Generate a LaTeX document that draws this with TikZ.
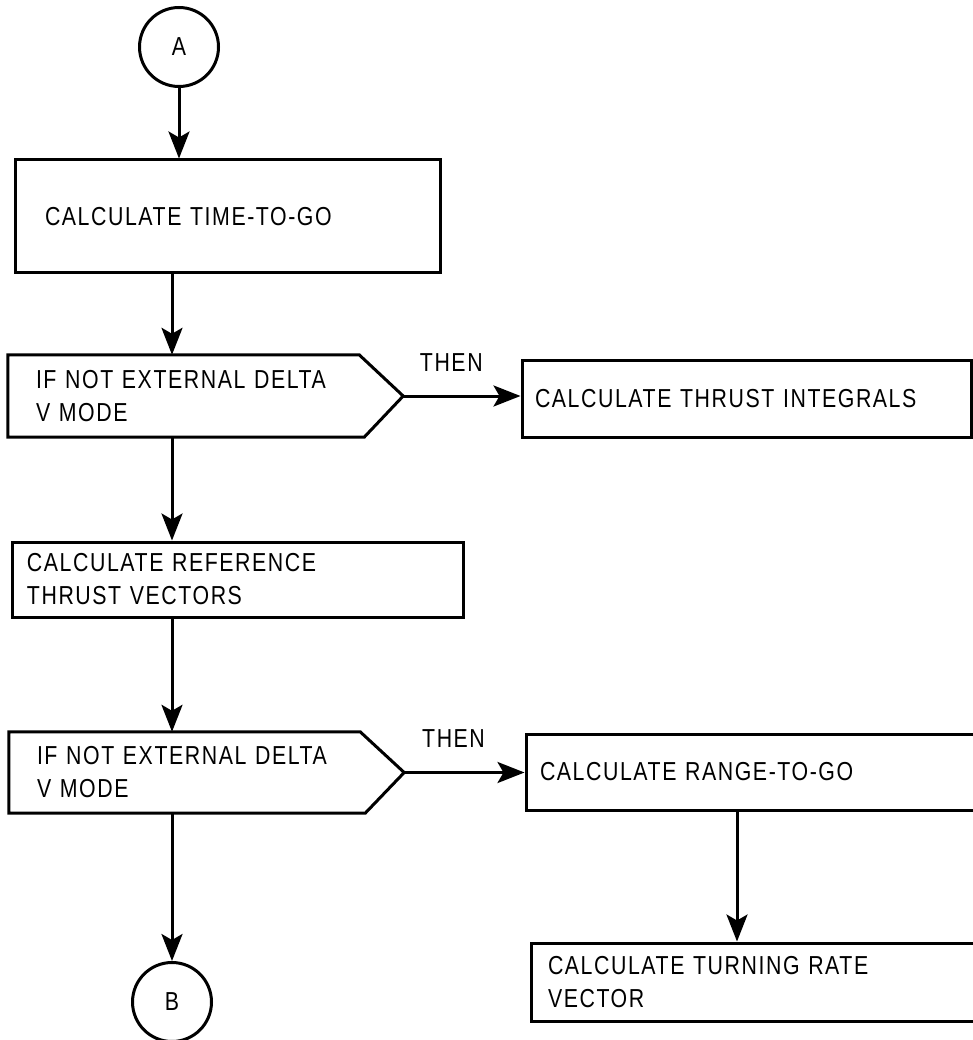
\documentclass[tikz,border=0pt]{standalone}
\usepackage{fontspec}
\setmainfont[FakeStretch=0.82, LetterSpace=6]{Liberation Sans}
\usetikzlibrary{arrows.meta}

\tikzset{
  flow/.style={line width=3pt, -{Stealth[length=27pt,width=21pt,inset=6pt]}},
  procbox/.style={draw, rectangle, line width=3pt, align=left, inner ysep=0pt},
  ifbox/.style={rectangle, align=left, inner ysep=0pt, inner xsep=28pt, text width=339pt},
  joint/.style={draw, circle, line width=3pt, minimum size=79pt, inner sep=0pt}
}
\newcommand{\ifoutline}[1]{\draw[line width=3pt] (#1.north west) -- ([xshift=-44pt]#1.north east) -- (#1.east) -- ([xshift=-39pt]#1.south east) -- (#1.south west) -- cycle;}

\begin{document}
\begin{tikzpicture}[x=1pt, y=-1pt, every node/.style={font=\fontsize{26}{33}\selectfont}]
\useasboundingbox (0,0) rectangle (972,1040);

\node[joint] (A) at (179,47) {A};
\node[procbox, inner xsep=30pt, text width=365pt, minimum height=113pt] (calctime) at (227.5,216.5) {CALCULATE TIME-TO-GO};
\node[ifbox, minimum height=82pt] (ifa) at (205.5,396) {IF NOT EXTERNAL DELTA\\V MODE};
\node[procbox, inner xsep=13pt, text width=423pt, minimum height=77pt] (thrustint) at (746.5,398.5) {CALCULATE THRUST INTEGRALS};
\node[procbox, inner xsep=15pt, text width=421pt, minimum height=75pt] (refthrust) at (237.5,579.5) {CALCULATE REFERENCE\\THRUST VECTORS};
\node[ifbox, minimum height=81pt] (ifb) at (206.5,772.5) {IF NOT EXTERNAL DELTA\\V MODE};
\node[procbox, inner xsep=14pt, text width=424pt, minimum height=76pt] (rangego) at (752,772) {CALCULATE RANGE-TO-GO};
\node[procbox, inner xsep=17pt, text width=413pt, minimum height=78pt] (turnrate) at (754.5,982) {CALCULATE TURNING RATE\\VECTOR};
\node[joint] (B) at (172,1002) {B};

\ifoutline{ifa}
\ifoutline{ifb}

\draw[flow] (A) -- (A |- calctime.north);
\draw[flow] (calctime.south -| B) -- (ifa.north -| B);
\draw[flow] (ifa.east) -- (ifa.east -| thrustint.west) node[pos=0.41, above=20pt] {THEN};
\draw[flow] (ifa.south -| B) -- (refthrust.north -| B);
\draw[flow] (refthrust.south -| B) -- (ifb.north -| B);
\draw[flow] (ifb.east) -- (ifb.east -| rangego.west) node[pos=0.41, above=20pt] {THEN};
\draw[flow] ([xshift=-15pt]rangego.south) -- ([xshift=-15pt]rangego.south |- turnrate.north);
\draw[flow] (ifb.south -| B) -- (B);
\end{tikzpicture}
\end{document}
